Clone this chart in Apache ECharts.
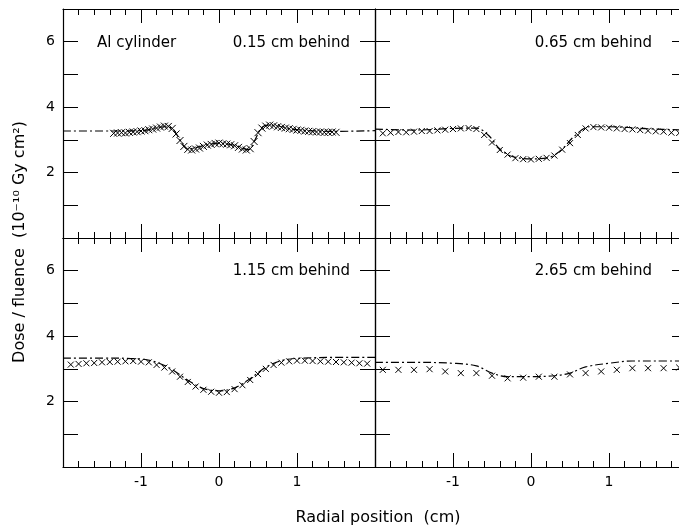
<!DOCTYPE html>
<html>
<head>
<meta charset="utf-8">
<script src="https://cdn.jsdelivr.net/npm/echarts@6/dist/echarts.min.js"></script>
<style>
  html, body { margin: 0; padding: 0; background: #fff; }
  #chart { width: 679px; height: 529px; }
</style>
</head>
<body>
<div id="chart"></div>
<script>
// tick labels
const xLabelVals = [-1, 0, 1]
const yLabelVals = [2, 4, 6]
const panelLabels = ['0.15 cm behind', '0.65 cm behind', '1.15 cm behind', '2.65 cm behind']

// 0.15 cm behind : measured (x) and calculated (dash-dot)
const xMeasA = [-1.35,-1.30,-1.25,-1.20,-1.15,-1.10,-1.05,-1.00,-0.95,-0.90,-0.85,-0.80,-0.75,-0.70,-0.65,-0.60,-0.55,-0.50,-0.45,-0.40,-0.35,-0.30,-0.25,-0.20,-0.15,-0.10,-0.05,0.00,0.05,0.10,0.15,0.20,0.25,0.30,0.35,0.40,0.45,0.50,0.55,0.60,0.65,0.70,0.75,0.80,0.85,0.90,0.95,1.00,1.05,1.10,1.15,1.20,1.25,1.30,1.35,1.40,1.45,1.50]
const yMeasA = [3.20,3.21,3.22,3.21,3.23,3.24,3.25,3.27,3.28,3.31,3.33,3.36,3.39,3.42,3.41,3.35,3.18,2.98,2.80,2.71,2.69,2.72,2.75,2.80,2.84,2.86,2.89,2.90,2.88,2.87,2.85,2.82,2.77,2.72,2.69,2.73,2.95,3.22,3.36,3.42,3.45,3.43,3.40,3.38,3.36,3.34,3.32,3.30,3.29,3.27,3.26,3.25,3.24,3.24,3.23,3.23,3.24,3.23]
const xCalcA = [-2.0,-1.5,-1.0,-0.7,-0.6,-0.5,-0.4,-0.2,0.0,0.2,0.38,0.45,0.55,0.65,1.0,1.5,2.0]
const yCalcA = [3.27,3.27,3.28,3.40,3.35,3.00,2.72,2.82,2.90,2.83,2.70,2.95,3.38,3.45,3.31,3.26,3.28]

// 0.65 cm behind
const xMeasB = [-1.9,-1.8,-1.7,-1.6,-1.5,-1.4,-1.3,-1.2,-1.1,-1.0,-0.9,-0.8,-0.7,-0.6,-0.5,-0.4,-0.3,-0.2,-0.1,0.0,0.1,0.2,0.3,0.4,0.5,0.6,0.7,0.8,0.9,1.0,1.1,1.2,1.3,1.4,1.5,1.6,1.7,1.8,1.9]
const yMeasB = [3.20,3.22,3.24,3.23,3.25,3.27,3.27,3.29,3.31,3.33,3.35,3.36,3.33,3.15,2.92,2.69,2.55,2.44,2.41,2.40,2.42,2.45,2.52,2.70,2.90,3.15,3.35,3.39,3.38,3.37,3.35,3.33,3.32,3.30,3.28,3.26,3.25,3.22,3.21]
const xCalcB = [-2.0,-1.5,-1.0,-0.7,-0.55,-0.4,-0.25,0.0,0.25,0.4,0.55,0.75,1.0,1.5,2.0]
const yCalcB = [3.33,3.30,3.35,3.36,3.15,2.72,2.50,2.42,2.48,2.72,3.10,3.40,3.40,3.34,3.30]

// 1.15 cm behind
const xMeasC = [-1.9,-1.8,-1.7,-1.6,-1.5,-1.4,-1.3,-1.2,-1.1,-1.0,-0.9,-0.8,-0.7,-0.6,-0.5,-0.4,-0.3,-0.2,-0.1,0.0,0.1,0.2,0.3,0.4,0.5,0.6,0.7,0.8,0.9,1.0,1.1,1.2,1.3,1.4,1.5,1.6,1.7,1.8,1.9]
const yMeasC = [3.13,3.15,3.17,3.18,3.20,3.21,3.22,3.23,3.24,3.22,3.20,3.12,3.04,2.92,2.76,2.60,2.46,2.36,2.30,2.27,2.29,2.38,2.50,2.66,2.84,3.00,3.12,3.19,3.23,3.25,3.25,3.24,3.23,3.22,3.21,3.20,3.19,3.17,3.16]
const xCalcC = [-2.0,-1.5,-1.0,-0.8,-0.6,-0.4,-0.2,0.0,0.2,0.4,0.6,0.8,1.0,1.5,2.0]
const yCalcC = [3.33,3.33,3.30,3.20,2.98,2.65,2.40,2.33,2.42,2.70,3.05,3.25,3.32,3.35,3.35]

// 2.65 cm behind
const xMeasD = [-1.9,-1.7,-1.5,-1.3,-1.1,-0.9,-0.7,-0.5,-0.3,-0.1,0.1,0.3,0.5,0.7,0.9,1.1,1.3,1.5,1.7,1.9]
const yMeasD = [2.97,2.97,2.97,2.99,2.92,2.87,2.87,2.79,2.71,2.73,2.76,2.76,2.83,2.87,2.92,2.97,3.02,3.02,3.02,3.04]
const xCalcD = [-2.0,-1.5,-1.0,-0.7,-0.5,-0.3,0.0,0.3,0.5,0.7,1.0,1.3,1.6,2.0]
const yCalcD = [3.20,3.20,3.17,3.09,2.87,2.76,2.76,2.79,2.87,3.06,3.17,3.24,3.24,3.24]

const measured = [[xMeasA, yMeasA], [xMeasB, yMeasB], [xMeasC, yMeasC], [xMeasD, yMeasD]]
const calculated = [[xCalcA, yCalcA], [xCalcB, yCalcB], [xCalcC, yCalcC], [xCalcD, yCalcD]]

const zip = (xs, ys) => xs.map((x, i) => [x, ys[i]])
const font = 'DejaVu Sans'
const lineW = 1.2

// right-hand panels run past the canvas edge, as in the scan
const grids = [
  {left: 63, top: 9, width: 312, height: 229},
  {left: 375, top: 9, width: 312, height: 229},
  {left: 63, top: 238, width: 312, height: 229},
  {left: 375, top: 238, width: 312, height: 229}
].map(g => Object.assign(g, {containLabel: false, outerBoundsMode: 'none'}))

const xAxes = []
const yAxes = []
grids.forEach((g, i) => {
  ;['bottom', 'top'].forEach(pos => {
    xAxes.push({
      type: 'value', gridIndex: i, position: pos, min: -2, max: 2, interval: 1,
      axisLine: {show: true, onZero: false, lineStyle: {color: '#000', width: lineW}},
      axisTick: {show: true, inside: true, length: 14, lineStyle: {color: '#000', width: 1}},
      minorTick: {show: true, splitNumber: 5, length: 6, lineStyle: {color: '#000', width: 1}},
      splitLine: {show: false},
      axisLabel: {
        show: pos === 'bottom' && i >= 2, margin: 8, color: '#000', fontFamily: font, fontSize: 14,
        formatter: v => xLabelVals.includes(v) ? String(v) : ''
      }
    })
  })
  ;['left', 'right'].forEach(pos => {
    yAxes.push({
      type: 'value', gridIndex: i, position: pos, min: 0, max: 7, interval: 1,
      axisLine: {show: true, onZero: false, lineStyle: {color: '#000', width: lineW}},
      axisTick: {show: true, inside: true, length: 15, lineStyle: {color: '#000', width: 1}},
      splitLine: {show: false},
      axisLabel: {
        show: pos === 'left' && (i === 0 || i === 2), margin: 8, color: '#000', fontFamily: font, fontSize: 14,
        formatter: v => yLabelVals.includes(v) ? String(v) : ''
      }
    })
  })
})

const series = []
grids.forEach((g, i) => {
  series.push({
    type: 'line', xAxisIndex: 2 * i, yAxisIndex: 2 * i,
    data: zip(calculated[i][0], calculated[i][1]),
    smooth: 0.35, showSymbol: false, silent: true,
    lineStyle: {color: '#000', width: 1.2, type: [8, 3, 2, 3]}
  })
  series.push({
    type: 'scatter', xAxisIndex: 2 * i, yAxisIndex: 2 * i,
    data: zip(measured[i][0], measured[i][1]),
    symbol: 'path://M0,0L10,10M10,0L0,10', symbolSize: i === 0 ? 7 : 6,
    itemStyle: {color: 'none', borderColor: '#000', borderWidth: 1, opacity: 1}
  })
})

const textStyle = (t, align) => ({text: t, align: align, verticalAlign: 'middle', font: '15px "DejaVu Sans"', fill: '#000'})

const chart = echarts.init(document.getElementById('chart'))
chart.setOption({
  animation: false,
  backgroundColor: '#fff',
  grid: grids,
  xAxis: xAxes,
  yAxis: yAxes,
  series: series,
  graphic: [
    {type: 'text', x: 97, y: 43, style: textStyle('Al cylinder', 'left')},
    {type: 'text', x: 350, y: 43, style: textStyle(panelLabels[0], 'right')},
    {type: 'text', x: 652, y: 43, style: textStyle(panelLabels[1], 'right')},
    {type: 'text', x: 350, y: 271, style: textStyle(panelLabels[2], 'right')},
    {type: 'text', x: 652, y: 271, style: textStyle(panelLabels[3], 'right')},
    {type: 'text', x: 378, y: 518, style: {text: 'Radial position  (cm)', align: 'center', verticalAlign: 'middle', font: '16px "DejaVu Sans"', fill: '#000'}},
    {type: 'text', x: 20, y: 242, rotation: Math.PI / 2, style: {text: 'Dose / fluence  (10⁻¹⁰ Gy cm²)', align: 'center', verticalAlign: 'middle', font: '16px "DejaVu Sans"', fill: '#000'}}
  ]
})
</script>
</body>
</html>
